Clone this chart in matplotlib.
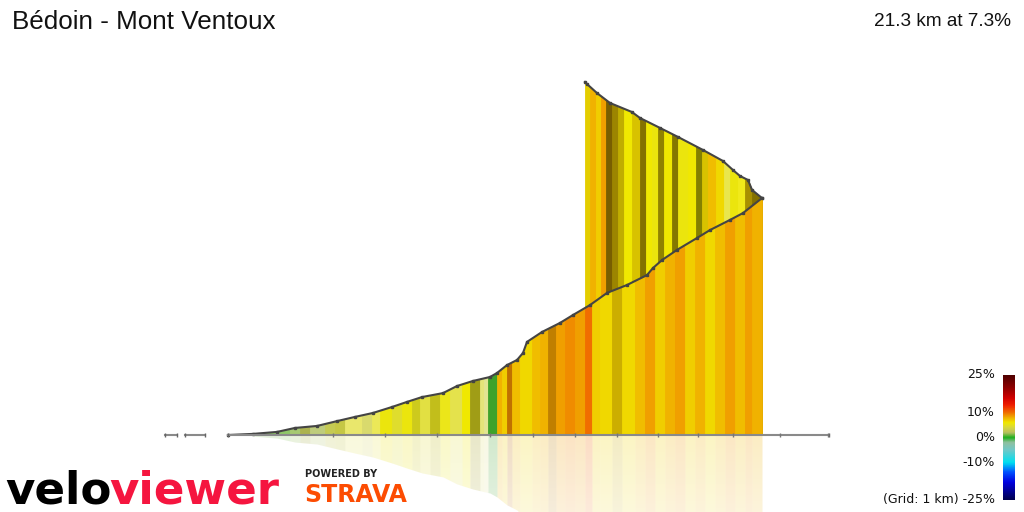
import numpy as np
import matplotlib
matplotlib.use('Agg')
import matplotlib.pyplot as plt
from matplotlib.colors import LinearSegmentedColormap

# ── Data (screen-projected position, elevation in m) ─────────────
BASE = 300  # elevation of the ground line at Bédoin

front_x = [253, 277, 295, 317, 337, 355, 373, 392, 407, 422, 443, 457, 473, 490,
           497, 507, 517, 523, 527, 542, 560, 573, 590, 607, 627, 647, 653, 662,
           677, 697, 710, 730, 743, 762]
front_elev = [305, 314, 332, 341, 363, 382, 400, 427, 450, 472, 490, 522, 545, 563,
              581, 617, 640, 672, 722, 767, 808, 844, 889, 944, 980, 1025, 1057, 1093,
              1139, 1193, 1229, 1275, 1306, 1374]

# last part (Chalet Reynard -> summit) runs back towards the left
back_x = [762, 752, 748, 740, 733, 723, 703, 678, 660, 640, 632, 610, 597, 587, 585]
back_elev = [1374, 1411, 1456, 1474, 1501, 1542, 1592, 1651, 1692, 1737, 1764, 1805,
             1850, 1891, 1900]

# colour stripes: start position, gradient %, shading
front_stripe_x = [253, 290, 300, 310, 325, 335, 345, 362, 372, 380, 392, 402, 412, 420,
                  430, 440, 450, 462, 470, 480, 484, 488, 497, 502, 507, 512, 520, 532,
                  540, 548, 556, 565, 575, 585, 592, 600, 612, 622, 635, 645, 655, 665,
                  675, 685, 695, 705, 715, 725, 735, 745, 752, 762]
front_grade = [1.0, 1.5, 2.5, 1.8, 2.8, 3.5, 4.5, 3.5, 5.0, 5.5, 4.5, 5.5, 5.0, 4.5,
               5.0, 5.5, 4.5, 6.0, 5.0, 4.0, 3.5, 0.5, 8.0, 7.0, 9.0, 7.5, 6.5, 7.5,
               8.0, 8.5, 8.5, 9.0, 8.5, 10.0, 7.0, 6.5, 7.0, 6.5, 7.5, 8.5, 7.0, 8.0,
               8.5, 7.0, 8.0, 6.5, 7.5, 8.5, 7.5, 8.5, 8.0]
front_shade = [1.2, 1.2, 0.9, 1.2, 1.0, 0.95, 1.3, 1.2, 1.25, 1.0, 1.0, 1.0, 0.9, 1.1,
               0.85, 1.05, 1.15, 1.0, 0.7, 1.3, 1.4, 0.9, 1.0, 1.0, 0.8, 1.0, 1.0, 1.0,
               1.0, 0.8, 1.0, 1.0, 1.0, 1.0, 1.0, 1.0, 0.85, 1.0, 1.0, 1.0, 1.0, 1.0,
               1.0, 1.0, 1.0, 1.0, 1.0, 1.0, 1.0, 1.0, 1.0]

back_stripe_x = [585, 590, 596, 601, 606, 612, 618, 624, 632, 640, 646, 652, 658, 664,
                 672, 678, 688, 696, 702, 708, 716, 724, 730, 738, 745, 752, 762]
back_grade = [6.5, 8.0, 7.0, 8.5, 7.5, 7.0, 6.5, 6.0, 6.5, 7.0, 6.0, 5.5, 6.5, 6.0,
              6.5, 5.5, 6.0, 6.0, 6.5, 7.5, 6.5, 5.0, 5.5, 6.0, 7.0, 7.0]
back_shade = [0.95, 1.0, 1.0, 1.0, 0.5, 0.65, 0.8, 1.0, 0.9, 0.55, 1.0, 1.0, 0.6, 1.0,
              0.55, 1.0, 1.0, 0.55, 0.9, 1.0, 1.0, 1.2, 1.0, 1.1, 0.7, 0.55]

grid_ticks = [333, 385, 437, 490, 533, 575, 617, 658, 698, 733, 780, 828]
ground_pieces = [(165, 177), (185, 205), (228, 829)]

# gradient colour scale
scale_pos = [-25, -18, -14, -10, -5, -2, 0, 2, 4, 6, 8, 10, 13, 16, 20, 25]
scale_col = ['#000050', '#0000e0', '#0050ff', '#00e0f0', '#70c8c8', '#90c0a0',
             '#20b020', '#b8c060', '#d8d840', '#f0e800', '#f0b000', '#f07000',
             '#f02000', '#d00000', '#900000', '#500000']
cmap = LinearSegmentedColormap.from_list(
    'grade', [((p + 25) / 50, c) for p, c in zip(scale_pos, scale_col)])


def grade_color(g, s):
    c = np.array(cmap((g + 25) / 50)[:3])
    if s < 1:
        c = c * s
    else:
        c = c + (1 - c) * (s - 1)
    return tuple(np.clip(c, 0, 1))


# ── Figure ───────────────────────────────────────────────────────
W, H = 1024, 512
fig = plt.figure(figsize=(10.24, 5.12), dpi=100)
ax = fig.add_axes([0, 0, 1, 1])
px2m = 4.533
y_lo, y_hi = BASE - (H - 435) * px2m, BASE + 435 * px2m
ax.axis('off')

fx, fe = np.array(front_x, float), np.array(front_elev, float)
bx, be = np.array(back_x[::-1], float), np.array(back_elev[::-1], float)


def stripes(px, pe, edges, grades, shades, z, mirror=False, alpha=1.0):
    for a, b, g, s in zip(edges[:-1], edges[1:], grades, shades):
        xs = np.concatenate([[a], px[(px > a) & (px < b)], [b]])
        ys = np.interp(xs, px, pe)
        if mirror:
            ys = 2 * BASE - ys
            ax.fill_between(xs, BASE, ys, color=grade_color(g, s), lw=0,
                            alpha=alpha, antialiased=False, zorder=z)
        else:
            col = grade_color(g, s)
            ax.fill_between(xs, BASE, ys, color=col, lw=0.6, edgecolor=col,
                            zorder=z)


# back wall (summit section), then the front wall over it
stripes(bx, be, back_stripe_x, back_grade, back_shade, 2)
ax.plot(back_x, back_elev, color='#444444', lw=1.5, marker='s', ms=2, zorder=3)
stripes(fx, fe, front_stripe_x, front_grade, front_shade, 4)
ax.plot([228] + front_x, [BASE] + front_elev, color='#444444', lw=1.5,
        marker='s', ms=2, zorder=5)

# reflection, fading out downwards
stripes(fx, fe, front_stripe_x, front_grade, front_shade, 1.5, mirror=True, alpha=0.23)
fade = np.ones((100, 2, 4))
fade[..., 3] = np.linspace(0, 0.4, 100)[:, None]
ax.imshow(fade, extent=(240, 770, y_lo - 5, BASE), origin='upper',
          aspect='auto', zorder=1.8, interpolation='bilinear')
ax.set_xlim(0, W)
ax.set_ylim(y_lo, y_hi)

# ground line with grid ticks
for a, b in ground_pieces:
    ax.plot([a, b], [BASE, BASE], color='#8a8a8a', lw=1.5, zorder=6,
            marker='|', ms=3, mec='#666666')
ax.plot(grid_ticks, [BASE] * len(grid_ticks), ls='none', marker='|', ms=3,
        color='#777777', zorder=6)

# ── Texts ────────────────────────────────────────────────────────
fig.text(12 / W, 1 - 22 / H, 'Bédoin - Mont Ventoux', fontsize=18.7,
         family='Liberation Sans', va='center', ha='left', color='#111111')
fig.text(1011 / W, 1 - 22 / H, '21.3 km at 7.3%', fontsize=13.7,
         family='Liberation Sans', va='center', ha='right', color='#111111')

# logos
t1 = fig.text(5 / W, 1 - 503 / H, 'velo', fontsize=32.5, fontweight='heavy',
              family='DejaVu Sans', color='black', va='baseline', ha='left')
fig.canvas.draw()
bb = t1.get_window_extent()
fig.text((bb.x1 - 2) / W, 1 - 503 / H, 'viewer', fontsize=32.5, fontweight='heavy',
         family='DejaVu Sans', color='#f5153f', va='baseline', ha='left')
fig.text(305 / W, 1 - 477 / H, 'POWERED BY', fontsize=7, fontweight='bold',
         family='DejaVu Sans', color='#222222', va='baseline', ha='left')
fig.text(304 / W, 1 - 502 / H, 'STRAVA', fontsize=17, fontweight='heavy',
         family='DejaVu Sans', color='#fc4c02', va='baseline', ha='left')

# ── Colour scale ────────────────────────────────────────────────
cax = fig.add_axes([1003 / W, 12 / H, 12 / W, 125 / H])
cax.imshow(np.linspace(25, -25, 200)[:, None], cmap=cmap, vmin=-25, vmax=25,
           aspect='auto', extent=(0, 1, -25, 25))
cax.axis('off')
for v, lab in [(25, '25%'), (10, '10%'), (0, '0%'), (-10, '-10%'),
               (-25, '(Grid: 1 km) -25%')]:
    yp = 500 - (v + 25) * 2.5
    fig.text(995 / W, 1 - yp / H, lab, fontsize=9, family='DejaVu Sans',
             ha='right', va='center', color='#111111')

fig.savefig('out.png', dpi=100)
